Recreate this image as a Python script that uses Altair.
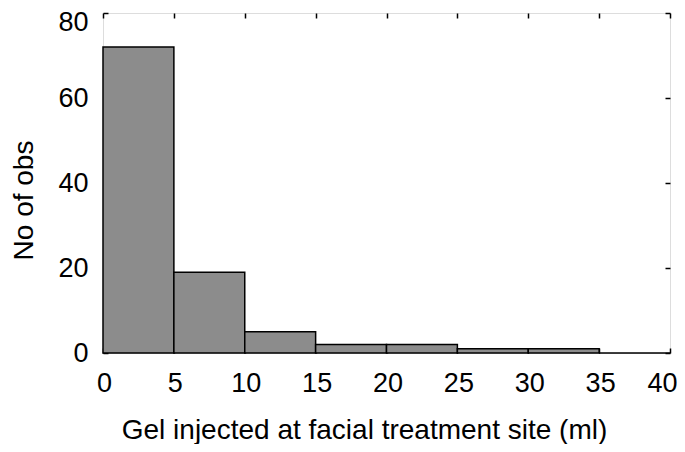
import altair as alt
import pandas as pd

bin_start = [0, 5, 10, 15, 20, 25, 30, 35]
bin_end = [5, 10, 15, 20, 25, 30, 35, 40]
counts = [72, 19, 5, 2, 2, 1, 1, 0]
x_ticks = [0, 5, 10, 15, 20, 25, 30, 35, 40]
y_ticks = [0, 20, 40, 60, 80]
x_title = "Gel injected at facial treatment site (ml)"
y_title = "No of obs"

df = pd.DataFrame({"start": bin_start, "end": bin_end, "count": counts})

FONT = "Liberation Sans"
xscale = alt.Scale(domain=[0, 40], nice=False, zero=False)
yscale = alt.Scale(domain=[0, 80], nice=False)

common = dict(domain=False, ticks=True, tickSize=5, tickWidth=1.5, tickColor="black",
              offset=-5, grid=False, labelFlush=False, labelOverlap=False)

bars = alt.Chart(df).mark_bar(fill="#8c8c8c", stroke="black", strokeWidth=1.5).encode(
    x=alt.X("start:Q", scale=xscale,
            axis=alt.Axis(values=x_ticks, orient="bottom", title=x_title,
                          labelFont=FONT, labelFontSize=27, labelColor="black",
                          labelPadding=17,
                          labelOffset={"condition": {"test": "datum.value == 40", "value": -8}, "value": 1},
                          titleFont=FONT, titleFontSize=28, titleFontWeight="normal",
                          titleColor="black", titleBaseline="alphabetic",
                          titleAlign="center", titleX=261, titleY=90, **common)),
    x2="end:Q",
    y=alt.Y("count:Q", scale=yscale,
            axis=alt.Axis(values=y_ticks, orient="left", title=y_title,
                          labelFont=FONT, labelFontSize=27, labelColor="black",
                          labelPadding=15,
                          labelOffset={"condition": {"test": "datum.value == 80", "value": 9}, "value": 0},
                          titleFont=FONT, titleFontSize=28, titleFontWeight="normal",
                          titleColor="black", titleBaseline="middle",
                          titleAlign="center", titleX=-84, titleY=187, **common)),
    y2=alt.datum(0),
)

frame = alt.Chart(df).mark_bar(opacity=0).encode(
    x=alt.X("start:Q", scale=xscale,
            axis=alt.Axis(values=x_ticks, orient="top", labels=False, title=None, **common)),
    x2="end:Q",
    y=alt.Y("count:Q", scale=yscale,
            axis=alt.Axis(values=y_ticks, orient="right", labels=False, title=None, **common)),
    y2=alt.datum(0),
)

chart = alt.layer(bars, frame).resolve_axis(x="independent", y="independent").properties(
    width=567, height=340,
    padding={"left": 95, "top": 5, "right": 7, "bottom": 91},
    autosize="none",
).configure_view(stroke="black", strokeWidth=1.5).configure(background="white")

chart.save("out.html", embed_options={"renderer": "svg", "actions": False})
